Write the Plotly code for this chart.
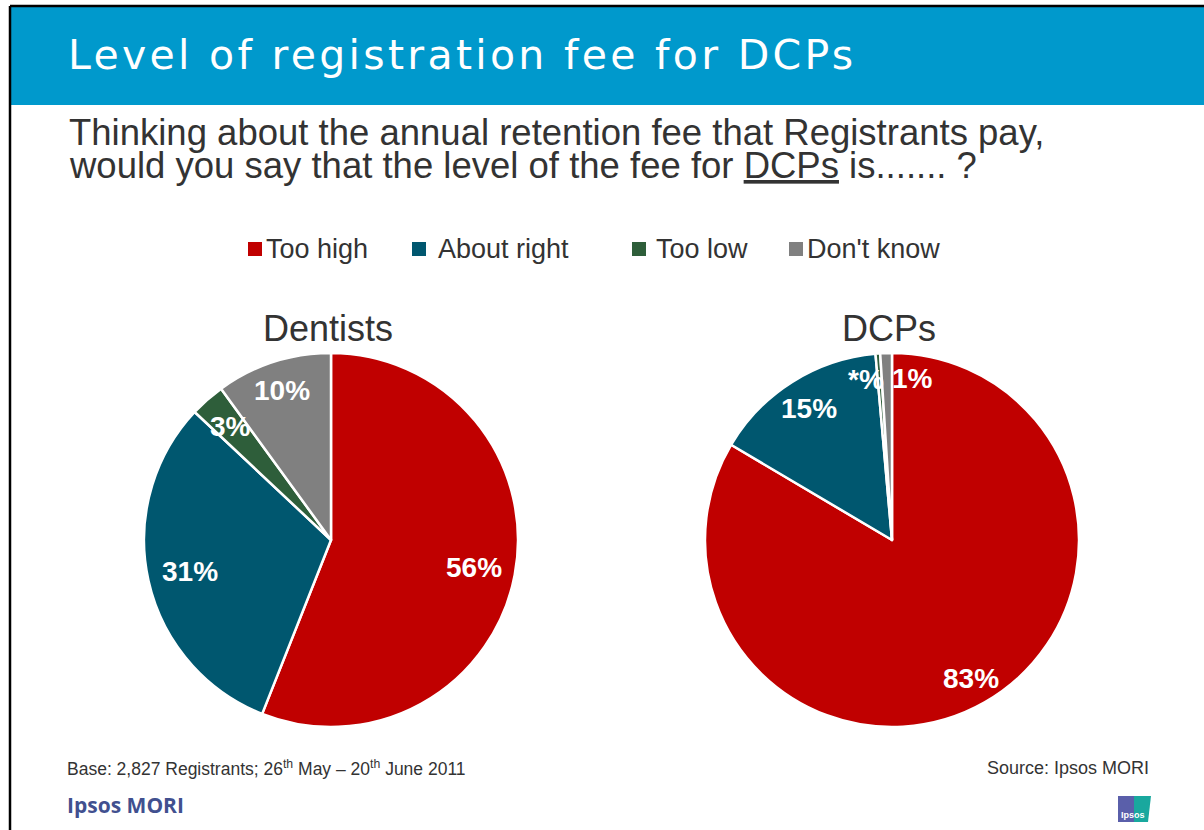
import math
import plotly.graph_objects as go

# Survey answers: share of respondents per answer, by registrant group
categories = ["Too high", "About right", "Too low", "Don't know"]
dentists_values = [56, 31, 3, 10]
dentists_labels = ["56%", "31%", "3%", "10%"]
dcps_values = [83, 15, 0.4, 1]
dcps_labels = ["83%", "15%", "*%", "1%"]
group_titles = ["Dentists", "DCPs"]

colors = ["#C00000", "#00576F", "#2E5E3A", "#808080"]

W, H = 1204, 830
FONT = "Liberation Sans, Arial"


def px_x(x):
    return x / W


def px_y(y):
    return 1 - y / H


# pie geometry in pixels (center x, center y, radius)
pies = [
    dict(values=dentists_values, text=dentists_labels, cx=331, cy=540, r=187,
         frac=[0.78, 0.77, 0.81, 0.84], nudge=[0, 0, 0, 0]),
    dict(values=dcps_values, text=dcps_labels, cx=892, cy=540, r=187,
         frac=[0.85, 0.83, 0.87, 0.87], nudge=[0, 0, -5, 9]),
]

fig = go.Figure()

annotations = []
shapes = []

for i, p in enumerate(pies):
    cx, cy, r = p["cx"], p["cy"], p["r"]
    fig.add_trace(go.Pie(
        labels=categories,
        values=p["values"],
        sort=False,
        direction="clockwise",
        rotation=0,
        marker=dict(colors=colors, line=dict(color="white", width=2.5)),
        textinfo="none",
        hoverinfo="label+value",
        showlegend=False,
        domain=dict(x=[px_x(cx - r), px_x(cx + r)], y=[px_y(cy + r), px_y(cy - r)]),
    ))
    # slice labels placed along each slice's mid angle
    total = sum(p["values"])
    cum = 0
    for v, t, f, nd in zip(p["values"], p["text"], p["frac"], p["nudge"]):
        mid = (cum + v / 2) / total * 360 + nd
        cum += v
        a = math.radians(mid)
        lx = cx + f * r * math.sin(a)
        ly = cy - f * r * math.cos(a)
        annotations.append(dict(
            x=px_x(lx), y=px_y(ly), xref="paper", yref="paper",
            text="<b>%s</b>" % t, showarrow=False,
            font=dict(family=FONT, size=28, color="white"),
            xanchor="center", yanchor="middle",
        ))
    annotations.append(dict(
        x=px_x(cx - 3), y=px_y(328), xref="paper", yref="paper",
        text=group_titles[i], showarrow=False,
        font=dict(family=FONT, size=36, color="#333333"),
        xanchor="center", yanchor="middle",
    ))

# header band and frame
shapes.append(dict(type="rect", xref="paper", yref="paper",
                   x0=px_x(10), x1=1, y0=px_y(105), y1=px_y(6),
                   fillcolor="#0099CC", line=dict(width=0), layer="below"))
shapes.append(dict(type="line", xref="paper", yref="paper",
                   x0=px_x(10), x1=1, y0=px_y(6), y1=px_y(6),
                   line=dict(color="black", width=2.5)))
shapes.append(dict(type="line", xref="paper", yref="paper",
                   x0=px_x(10), x1=px_x(10), y0=px_y(6), y1=0,
                   line=dict(color="black", width=2.5)))

annotations.append(dict(
    x=px_x(66), y=px_y(55), xref="paper", yref="paper",
    text='<span style="letter-spacing:3.3px">Level of registration fee for DCPs</span>',
    showarrow=False,
    font=dict(family="DejaVu Sans", size=41, color="white"),
    xanchor="left", yanchor="middle",
))

# question text
annotations.append(dict(
    x=px_x(67), y=px_y(133), xref="paper", yref="paper",
    text="Thinking about the annual retention fee that Registrants pay,",
    showarrow=False,
    font=dict(family=FONT, size=36.5, color="#333333"),
    xanchor="left", yanchor="middle",
))
annotations.append(dict(
    x=px_x(67), y=px_y(166), xref="paper", yref="paper",
    text="would you say that the level of the fee for <u>DCPs</u> is....... ?",
    showarrow=False,
    font=dict(family=FONT, size=36.5, color="#333333"),
    xanchor="left", yanchor="middle",
))

# legend
legend_marker_x = [248, 412, 632, 789]
legend_text_x = [264, 436, 654, 805]
for c, name, mx, tx in zip(colors, categories, legend_marker_x, legend_text_x):
    shapes.append(dict(type="rect", xref="paper", yref="paper",
                       x0=px_x(mx), x1=px_x(mx + 14), y0=px_y(256), y1=px_y(242),
                       fillcolor=c, line=dict(width=0)))
    annotations.append(dict(
        x=px_x(tx), y=px_y(249), xref="paper", yref="paper",
        text=name, showarrow=False,
        font=dict(family=FONT, size=27, color="#333333"),
        xanchor="left", yanchor="middle",
    ))

# footer
annotations.append(dict(
    x=px_x(65), y=px_y(768), xref="paper", yref="paper",
    text="Base: 2,827 Registrants; 26<sup>th</sup> May \u2013 20<sup>th</sup> June 2011",
    showarrow=False,
    font=dict(family=FONT, size=17.5, color="#333333"),
    xanchor="left", yanchor="middle",
))
annotations.append(dict(
    x=px_x(1151), y=px_y(768), xref="paper", yref="paper",
    text="Source: Ipsos MORI", showarrow=False,
    font=dict(family=FONT, size=18, color="#333333"),
    xanchor="right", yanchor="middle",
))
annotations.append(dict(
    x=px_x(65), y=px_y(805), xref="paper", yref="paper",
    text="<b>Ipsos MORI</b>", showarrow=False,
    font=dict(family="Open Sans", size=21, color="#41508F"),
    xanchor="left", yanchor="middle",
))

# small Ipsos badge
shapes.append(dict(type="rect", xref="paper", yref="paper",
                   x0=px_x(1118), x1=px_x(1134), y0=px_y(822), y1=px_y(796),
                   fillcolor="#5A5FAA", line=dict(width=0)))
shapes.append(dict(type="path", xref="paper", yref="paper",
                   path="M %f,%f L %f,%f L %f,%f L %f,%f Z" % (
                       px_x(1134), px_y(796), px_x(1151), px_y(796),
                       px_x(1148), px_y(822), px_x(1134), px_y(822)),
                   fillcolor="#19A89E", line=dict(width=0)))
annotations.append(dict(
    x=px_x(1133), y=px_y(815), xref="paper", yref="paper",
    text="<b>Ipsos</b>", showarrow=False,
    font=dict(family=FONT, size=9, color="white"),
    xanchor="center", yanchor="middle",
))

fig.update_layout(
    width=W, height=H,
    margin=dict(l=0, r=0, t=0, b=0),
    paper_bgcolor="white",
    plot_bgcolor="white",
    shapes=shapes,
    annotations=annotations,
)

fig.write_html("out.html")
